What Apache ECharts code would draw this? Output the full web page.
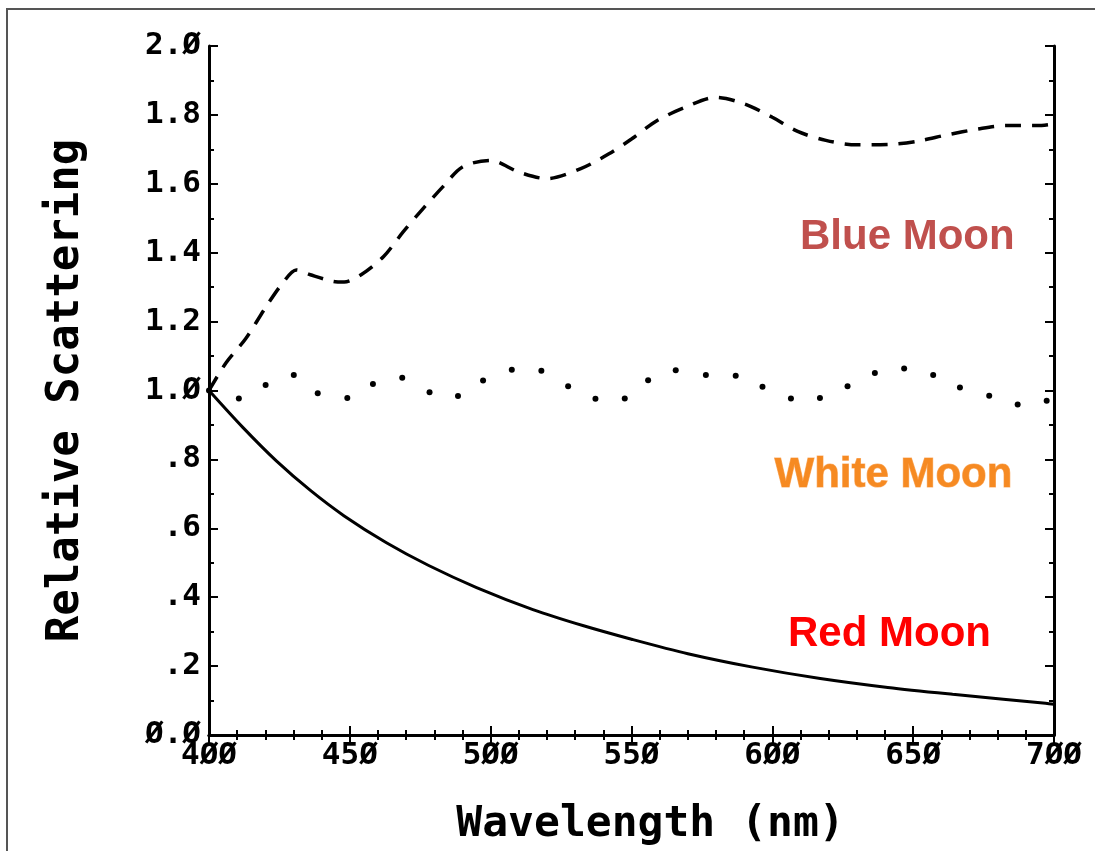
<!DOCTYPE html>
<html>
<head>
<meta charset="utf-8">
<script src="https://cdn.jsdelivr.net/npm/echarts@6/dist/echarts.min.js"></script>
<style>
html,body{margin:0;padding:0;background:#fff;}
#chart{width:1095px;height:851px;}
</style>
</head>
<body>
<div id="chart"></div>
<script>
// ---- data ----
const xTickValues = [400, 450, 500, 550, 600, 650, 700];
const xTickLabels = ['4ØØ', '45Ø', '5ØØ', '55Ø', '6ØØ', '65Ø', '7ØØ'];
const yTickLabels = ['Ø.Ø', '.2', '.4', '.6', '.8', '1.Ø', '1.2', '1.4', '1.6', '1.8', '2.Ø'];

const blueWavelength = [400, 406, 413, 420, 426, 431, 436, 444, 448, 454, 462, 469, 476, 483, 490, 500, 510, 520, 532, 542, 550, 559, 569, 580, 590, 600, 609, 619, 630, 641, 651, 662, 673, 683, 694, 700];
const blueValues =     [1.00, 1.08, 1.15, 1.24, 1.31, 1.35, 1.336, 1.317, 1.315, 1.336, 1.389, 1.461, 1.528, 1.591, 1.649, 1.668, 1.634, 1.615, 1.644, 1.687, 1.73, 1.783, 1.822, 1.851, 1.832, 1.793, 1.752, 1.726, 1.713, 1.714, 1.723, 1.742, 1.759, 1.769, 1.769, 1.774];

const whiteWavelength = [400, 410.6, 420.1, 430.1, 438.6, 449.1, 458.2, 468.6, 478.3, 488.4, 497.3, 507.5, 518.0, 527.5, 537.2, 547.6, 555.9, 565.7, 576.4, 587.0, 596.5, 606.6, 616.9, 626.7, 636.4, 646.8, 657.1, 666.6, 677.0, 687.1, 697.4];
const whiteValues =     [1.00, 0.977, 1.016, 1.045, 0.992, 0.978, 1.019, 1.037, 0.995, 0.984, 1.029, 1.060, 1.057, 1.012, 0.976, 0.977, 1.030, 1.059, 1.045, 1.043, 1.011, 0.977, 0.978, 1.012, 1.051, 1.064, 1.045, 1.009, 0.985, 0.959, 0.970];

const redWavelength = [400, 412, 424, 436, 448, 463, 478, 495, 515, 533, 550, 570, 593, 617, 641, 664, 682, 697, 700];
const redValues =     [1.00, 0.893, 0.795, 0.710, 0.636, 0.558, 0.492, 0.428, 0.364, 0.317, 0.278, 0.236, 0.197, 0.164, 0.138, 0.118, 0.104, 0.092, 0.089];

const curveLabels = ['Blue Moon', 'White Moon', 'Red Moon'];

function zip(xs, ys) { return xs.map((x, i) => [x, ys[i]]); }

const monoFont = "'DejaVu Sans Mono', 'Liberation Mono', monospace";
const tickFont = { fontFamily: monoFont, fontWeight: 'bold', fontSize: 31, color: '#000' };

const axisLineStyle = { show: true, lineStyle: { color: '#000', width: 3 } };
const majorTick = { show: true, inside: true, length: 9, lineStyle: { color: '#000', width: 2 } };
const minorTick = { show: true, splitNumber: 5, length: 5, lineStyle: { color: '#000', width: 2 } };
const minorTickY = { show: true, splitNumber: 2, length: 5, lineStyle: { color: '#000', width: 2 } };

const chart = echarts.init(document.getElementById('chart'), null, { renderer: 'canvas' });

chart.setOption({
  backgroundColor: '#fff',
  animation: false,
  grid: { left: 209, right: 41, top: 46, bottom: 112, containLabel: false },
  xAxis: [
    {
      type: 'value', min: 400, max: 700, interval: 50, position: 'bottom',
      axisLine: axisLineStyle, axisTick: majorTick, minorTick: minorTick,
      splitLine: { show: false }, minorSplitLine: { show: false },
      axisLabel: {
        ...tickFont, margin: 5,
        formatter: v => xTickLabels[xTickValues.indexOf(Math.round(v))] || ''
      },
      name: 'Wavelength (nm)', nameLocation: 'middle', nameGap: 68,
      nameTextStyle: { fontFamily: monoFont, fontWeight: 'bold', fontSize: 43, color: '#000', padding: [0, 0, 0, 38] }
    },
    {
      type: 'value', min: 400, max: 700, interval: 50, position: 'top',
      axisLine: axisLineStyle, axisTick: majorTick, minorTick: minorTick,
      splitLine: { show: false }, axisLabel: { show: false }
    }
  ],
  yAxis: [
    {
      type: 'value', min: 0, max: 2, interval: 0.2, position: 'left',
      axisLine: axisLineStyle, axisTick: majorTick, minorTick: minorTickY,
      splitLine: { show: false }, minorSplitLine: { show: false },
      axisLabel: {
        ...tickFont, margin: 8,
        formatter: v => yTickLabels[Math.round(v / 0.2)] || ''
      },
      name: 'Relative Scattering', nameLocation: 'middle', nameGap: 120, nameRotate: 90,
      nameTextStyle: { fontFamily: monoFont, fontWeight: 'bold', fontSize: 44, color: '#000' }
    },
    {
      type: 'value', min: 0, max: 2, interval: 0.2, position: 'right',
      axisLine: axisLineStyle, axisTick: majorTick, minorTick: minorTickY,
      splitLine: { show: false }, axisLabel: { show: false }
    }
  ],
  series: [
    {
      name: curveLabels[0], type: 'line', xAxisIndex: 0, yAxisIndex: 0,
      data: zip(blueWavelength, blueValues), smooth: 0.3, showSymbol: false,
      lineStyle: { color: '#000', width: 3.5, type: [16, 11] }
    },
    {
      name: curveLabels[1], type: 'scatter', xAxisIndex: 0, yAxisIndex: 0,
      data: zip(whiteWavelength, whiteValues), symbol: 'circle', symbolSize: 6,
      itemStyle: { color: '#000', opacity: 1 }
    },
    {
      name: curveLabels[2], type: 'line', xAxisIndex: 0, yAxisIndex: 0,
      data: zip(redWavelength, redValues), smooth: 0.3, showSymbol: false,
      lineStyle: { color: '#000', width: 3 }
    }
  ],
  graphic: [
    { type: 'rect', shape: { x: 7, y: 9, width: 1200, height: 1000 }, style: { fill: 'none', stroke: '#555', lineWidth: 2 }, silent: true, z: -1 },
    {
      type: 'text', left: 800, top: 216,
      style: { text: curveLabels[0], fill: '#c0504d', font: "bold 42px 'Liberation Sans', Arial, sans-serif" }
    },
    {
      type: 'text', left: 774, top: 454,
      style: {
        text: curveLabels[1],
        fill: '#f68a22',
        stroke: '#fbb77a', lineWidth: 1,
        font: "bold 42px 'Liberation Sans', Arial, sans-serif",
        shadowColor: 'rgba(0,0,0,0.35)', shadowBlur: 5, shadowOffsetX: 2, shadowOffsetY: 3
      }
    },
    {
      type: 'text', left: 788, top: 613,
      style: { text: curveLabels[2], fill: '#ff0000', font: "bold 42px 'Liberation Sans', Arial, sans-serif" }
    }
  ]
});
</script>
</body>
</html>
